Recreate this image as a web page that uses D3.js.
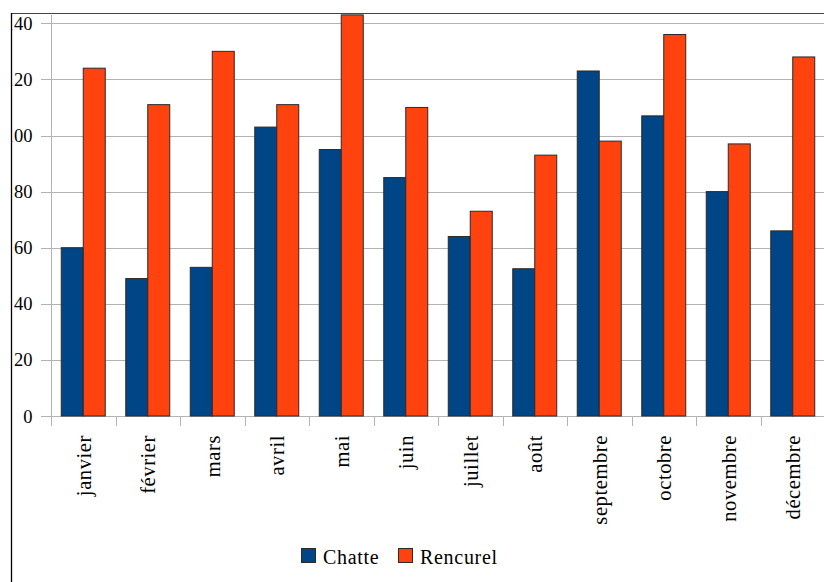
<!DOCTYPE html>
<html>
<head>
<meta charset="utf-8">
<script src="https://cdn.jsdelivr.net/npm/d3@7"></script>
</head>
<body style="margin:0">
<svg id="chart" width="824" height="582"></svg>
<script>
const months = ["janvier","février","mars","avril","mai","juin","juillet","août","septembre","octobre","novembre","décembre"];
const seriesNames = ["Chatte","Rencurel"];
const chatte =   [60, 49, 53, 103, 95, 85, 64, 52.5, 123, 107, 80, 66];
const rencurel = [124, 111, 130, 111, 143, 110, 73, 93, 98, 136, 97, 128];
const yTicks = [0, 20, 40, 60, 80, 100, 120, 140];
const colors = ["#004586", "#ff420e"];

const svg = d3.select("#chart");

const x0 = d3.scaleBand().domain(months).range([51, 825]).padding(0);
const x1 = d3.scaleBand().domain(seriesNames).range([0, x0.bandwidth()])
  .paddingInner(0).paddingOuter(0.466);
const y = d3.scaleLinear().domain([0, 140]).range([416, 23.3]);

// gridlines
svg.append("g").selectAll("line").data(yTicks).enter().append("line")
  .attr("x1", 41).attr("x2", 824)
  .attr("y1", d => Math.round(y(d)) + 0.5).attr("y2", d => Math.round(y(d)) + 0.5)
  .attr("stroke", "#b3b3b3").attr("stroke-width", 1);

// y tick labels (left part hidden behind the frame, as in the reference)
svg.append("g").selectAll("text").data(yTicks).enter().append("text")
  .attr("x", 32.5).attr("y", d => y(d) + 6.5)
  .attr("text-anchor", "end")
  .attr("font-size", 18.5)
  .style("font-family", d => `"Liberation Serif"`)
  .text(d => d);
// mask covering left of frame
svg.append("rect").attr("x", 0).attr("y", 0).attr("width", 12.5).attr("height", 582).attr("fill", "#fff");

// y axis line
svg.append("line").attr("x1", 51.5).attr("x2", 51.5).attr("y1", 15).attr("y2", 416)
  .attr("stroke", "#b3b3b3");

// x ticks at band boundaries
const boundaries = months.map(m => x0(m)).concat([x0(months[months.length-1]) + x0.bandwidth()]);
svg.append("g").selectAll("line").data(boundaries).enter().append("line")
  .attr("x1", d => Math.round(d) + 0.5).attr("x2", d => Math.round(d) + 0.5)
  .attr("y1", 416).attr("y2", 426)
  .attr("stroke", "#b3b3b3");

// bars
const groups = svg.append("g").selectAll("g").data(months).enter().append("g")
  .attr("transform", d => `translate(${x0(d)},0)`);
groups.selectAll("rect").data((m, i) => [
    {s: seriesNames[0], v: chatte[i], c: colors[0]},
    {s: seriesNames[1], v: rencurel[i], c: colors[1]}
  ]).enter().append("rect")
  .attr("x", d => x1(d.s))
  .attr("y", d => y(d.v))
  .attr("width", x1.bandwidth())
  .attr("height", d => y(0) - y(d.v))
  .attr("fill", d => d.c)
  .attr("stroke", "#2a2a2a")
  .attr("stroke-width", 1);

// x labels
svg.append("g").selectAll("text").data(months).enter().append("text")
  .attr("transform", d => `translate(${x0(d) + x0.bandwidth()/2 + 7.5},435) rotate(-90)`)
  .attr("text-anchor", "end")
  .attr("font-size", 20.5)
  .attr("letter-spacing", 0.6)
  .style("font-family", d => `"Liberation Serif"`)
  .text(d => d);

// frame lines
svg.append("line").attr("x1", 11).attr("x2", 824).attr("y1", 13.5).attr("y2", 13.5)
  .attr("stroke", "#444").attr("stroke-width", 1.2);
svg.append("line").attr("x1", 11.5).attr("x2", 11.5).attr("y1", 13).attr("y2", 582)
  .attr("stroke", "#000").attr("stroke-width", 1.3);

// legend
const legendItems = [
  {name: seriesNames[0], c: colors[0], x: 301},
  {name: seriesNames[1], c: colors[1], x: 398}
];
const lg = svg.append("g").selectAll("g").data(legendItems).enter().append("g");
lg.append("rect")
  .attr("x", d => d.x + 0.5).attr("y", 548.5)
  .attr("width", 14).attr("height", 14)
  .attr("fill", d => d.c).attr("stroke", "#2a2a2a");
lg.append("text")
  .attr("x", d => d.x + 22).attr("y", 564)
  .attr("font-size", 20)
  .attr("letter-spacing", 0.7)
  .style("font-family", d => `"Liberation Serif"`)
  .text(d => d.name);
</script>
</body>
</html>
